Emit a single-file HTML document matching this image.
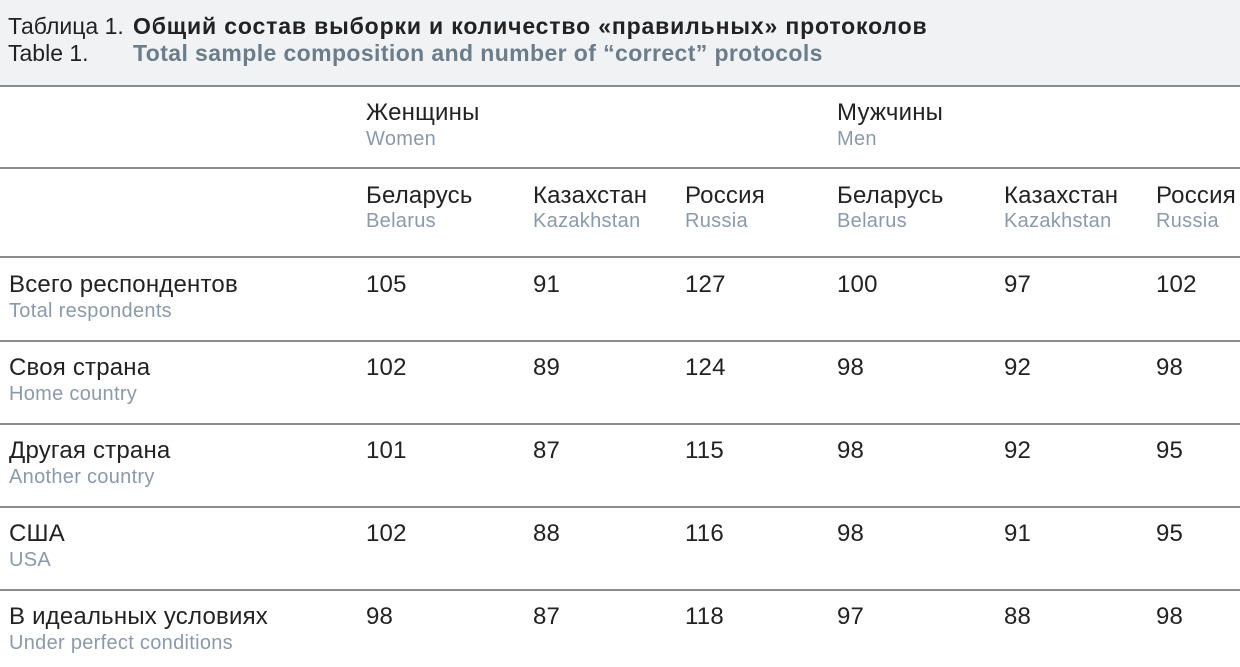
<!DOCTYPE html>
<html><head><meta charset="utf-8">
<style>
html,body{margin:0;padding:0;}
body{width:1240px;height:667px;position:relative;overflow:hidden;background:#fff;font-family:"Liberation Sans","DejaVu Sans",sans-serif;}
.hdr{position:absolute;left:0;top:0;width:1240px;height:85px;background:#f1f2f4;}
.ln{position:absolute;left:0;width:1240px;height:2px;background:#8c8c8c;}
.t{position:absolute;white-space:nowrap;font-size:23px;line-height:23px;color:#222;}
.b{font-weight:bold;letter-spacing:0.85px;}
.sub{color:#6b7d8b;letter-spacing:0.4px;}
.m{position:absolute;white-space:nowrap;font-size:24px;line-height:24px;color:#222;letter-spacing:0.2px;}
.s{position:absolute;white-space:nowrap;font-size:20px;line-height:20px;color:#8a9aab;letter-spacing:0.3px;}
</style></head><body>
<div class="hdr"></div>
<div class="t" style="left:8px;top:15px;">Таблица 1.</div>
<div class="t b" style="left:133px;top:15px;">Общий состав выборки и количество «правильных» протоколов</div>
<div class="t" style="left:8px;top:42px;">Table 1.</div>
<div class="t b sub" style="left:133px;top:42px;">Total sample composition and number of “correct” protocols</div>

<div class="ln" style="top:85px"></div>
<div class="ln" style="top:167px"></div>
<div class="ln" style="top:256px"></div>
<div class="ln" style="top:340px"></div>
<div class="ln" style="top:423px"></div>
<div class="ln" style="top:506px"></div>
<div class="ln" style="top:589px"></div>

<!-- Row 1 -->
<div class="m" style="left:366px;top:101px">Женщины</div>
<div class="s" style="left:366px;top:129px">Women</div>
<div class="m" style="left:837px;top:101px">Мужчины</div>
<div class="s" style="left:837px;top:129px">Men</div>

<!-- Row 2 -->
<div class="m" style="left:366px;top:184px">Беларусь</div>
<div class="s" style="left:366px;top:211px">Belarus</div>
<div class="m" style="left:533px;top:184px">Казахстан</div>
<div class="s" style="left:533px;top:211px">Kazakhstan</div>
<div class="m" style="left:685px;top:184px">Россия</div>
<div class="s" style="left:685px;top:211px">Russia</div>
<div class="m" style="left:837px;top:184px">Беларусь</div>
<div class="s" style="left:837px;top:211px">Belarus</div>
<div class="m" style="left:1004px;top:184px">Казахстан</div>
<div class="s" style="left:1004px;top:211px">Kazakhstan</div>
<div class="m" style="left:1156px;top:184px">Россия</div>
<div class="s" style="left:1156px;top:211px">Russia</div>

<!-- Row 3 -->
<div class="m" style="left:9px;top:273px">Всего респондентов</div>
<div class="s" style="left:9px;top:301px">Total respondents</div>
<div class="m" style="left:366px;top:273px">105</div>
<div class="m" style="left:533px;top:273px">91</div>
<div class="m" style="left:685px;top:273px">127</div>
<div class="m" style="left:837px;top:273px">100</div>
<div class="m" style="left:1004px;top:273px">97</div>
<div class="m" style="left:1156px;top:273px">102</div>

<!-- Row 4 -->
<div class="m" style="left:9px;top:356px">Своя страна</div>
<div class="s" style="left:9px;top:384px">Home country</div>
<div class="m" style="left:366px;top:356px">102</div>
<div class="m" style="left:533px;top:356px">89</div>
<div class="m" style="left:685px;top:356px">124</div>
<div class="m" style="left:837px;top:356px">98</div>
<div class="m" style="left:1004px;top:356px">92</div>
<div class="m" style="left:1156px;top:356px">98</div>

<!-- Row 5 -->
<div class="m" style="left:9px;top:439px">Другая страна</div>
<div class="s" style="left:9px;top:467px">Another country</div>
<div class="m" style="left:366px;top:439px">101</div>
<div class="m" style="left:533px;top:439px">87</div>
<div class="m" style="left:685px;top:439px">115</div>
<div class="m" style="left:837px;top:439px">98</div>
<div class="m" style="left:1004px;top:439px">92</div>
<div class="m" style="left:1156px;top:439px">95</div>

<!-- Row 6 -->
<div class="m" style="left:9px;top:522px">США</div>
<div class="s" style="left:9px;top:550px">USA</div>
<div class="m" style="left:366px;top:522px">102</div>
<div class="m" style="left:533px;top:522px">88</div>
<div class="m" style="left:685px;top:522px">116</div>
<div class="m" style="left:837px;top:522px">98</div>
<div class="m" style="left:1004px;top:522px">91</div>
<div class="m" style="left:1156px;top:522px">95</div>

<!-- Row 7 -->
<div class="m" style="left:9px;top:605px">В идеальных условиях</div>
<div class="s" style="left:9px;top:633px">Under perfect conditions</div>
<div class="m" style="left:366px;top:605px">98</div>
<div class="m" style="left:533px;top:605px">87</div>
<div class="m" style="left:685px;top:605px">118</div>
<div class="m" style="left:837px;top:605px">97</div>
<div class="m" style="left:1004px;top:605px">88</div>
<div class="m" style="left:1156px;top:605px">98</div>
</body></html>
